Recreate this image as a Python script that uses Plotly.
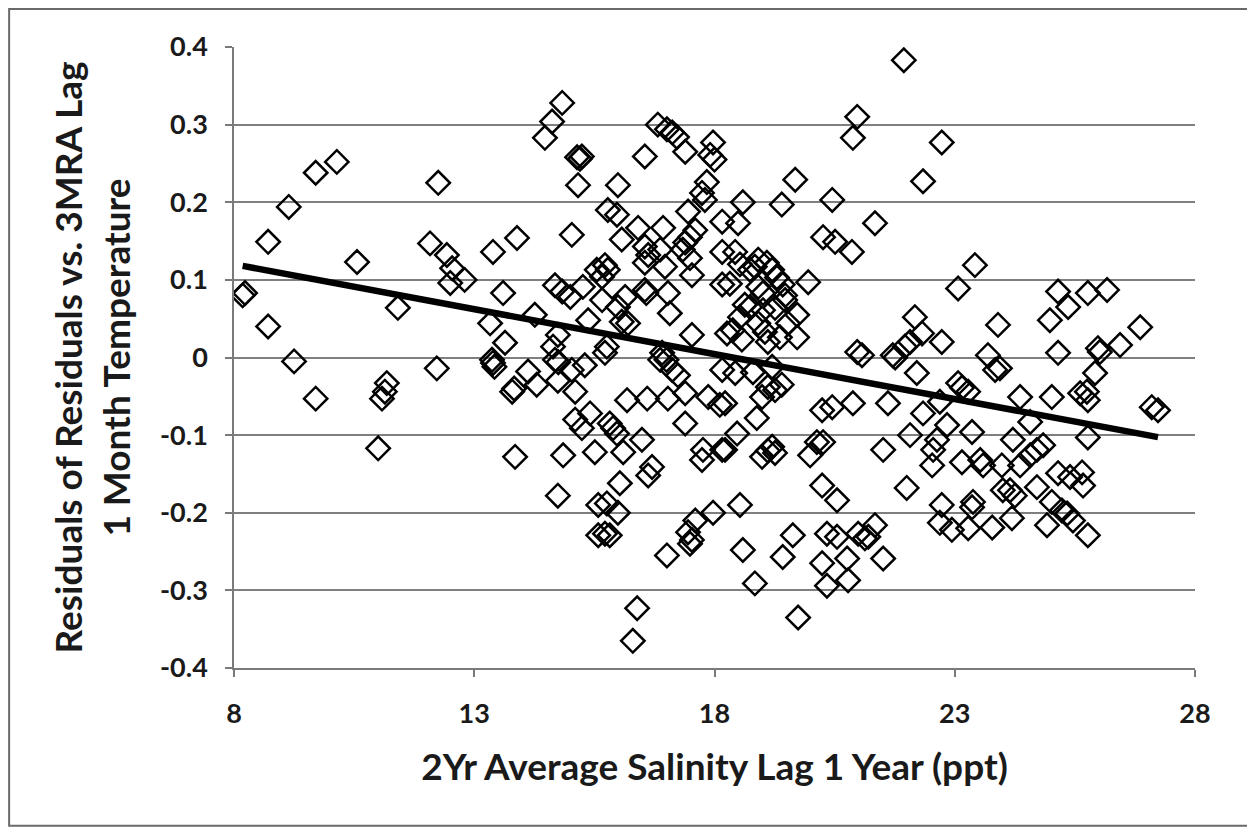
import plotly.graph_objects as go

# Scatter points (salinity ppt, residual)
salinity = [
    8.23, 8.18, 8.71, 8.71, 9.14, 9.25, 9.70, 9.70, 10.14, 10.56,
    11.00, 11.08, 11.14, 11.18, 11.41, 12.08, 12.25, 12.22, 12.43, 12.54,
    12.50, 12.80, 13.39, 13.33, 13.37, 13.39, 13.42, 13.64, 13.60, 13.79,
    13.83, 13.85, 13.89, 14.12, 14.26, 14.30, 14.47, 14.62, 14.83, 14.64,
    14.68, 14.74, 14.74, 14.75, 14.68, 14.83, 14.85, 14.74, 15.00, 15.03,
    15.03, 15.10, 15.10, 15.14, 15.16, 15.20, 15.24, 15.24, 15.26, 15.30,
    15.37, 15.41, 15.51, 15.55, 15.58, 15.58, 15.66, 15.66, 15.72, 15.72,
    15.72, 15.76, 15.76, 15.78, 15.78, 15.82, 15.82, 15.89, 15.97, 15.97,
    15.99, 15.99, 15.99, 16.03, 16.07, 16.07, 16.10, 16.14, 16.18, 16.20,
    16.30, 16.39, 16.41, 16.49, 16.55, 16.55, 16.55, 16.55, 16.58, 16.60,
    16.62, 16.62, 16.70, 16.82, 16.87, 16.87, 16.91, 16.93, 16.97, 17.00,
    17.01, 17.01, 17.03, 17.03, 17.07, 17.12, 17.12, 17.22, 17.24, 17.34,
    17.39, 17.39, 17.39, 17.39, 17.45, 17.45, 17.49, 17.49, 17.49, 17.53,
    17.53, 17.53, 17.60, 17.60, 17.74, 17.74, 17.76, 17.80, 17.84, 17.87,
    17.91, 17.97, 17.97, 18.00, 18.11, 18.16, 18.16, 18.16, 18.16, 18.16,
    18.22, 18.22, 18.26, 18.32, 18.38, 18.43, 18.43, 18.47, 18.49, 18.53,
    18.53, 18.53, 18.57, 18.59, 18.59, 18.63, 18.74, 18.74, 18.80, 18.84,
    18.84, 18.88, 18.91, 18.91, 18.91, 18.99, 18.99, 19.01, 19.01, 19.05,
    19.09, 19.11, 19.11, 19.11, 19.20, 19.20, 19.20, 19.26, 19.26, 19.26,
    19.30, 19.36, 19.40, 19.40, 19.42, 19.42, 19.47, 19.47, 19.53, 19.63,
    19.68, 19.72, 19.72, 19.74, 19.95, 19.99, 20.13, 20.24, 20.24, 20.24,
    20.26, 20.26, 20.34, 20.34, 20.45, 20.45, 20.51, 20.55, 20.55, 20.76,
    20.78, 20.86, 20.88, 20.88, 20.97, 20.97, 20.99, 21.07, 21.13, 21.20,
    21.34, 21.34, 21.51, 21.51, 21.61, 21.71, 21.76, 21.94, 21.96, 22.00,
    22.07, 22.07, 22.17, 22.21, 22.32, 22.34, 22.34, 22.53, 22.55, 22.63,
    22.69, 22.69, 22.73, 22.73, 22.73, 22.84, 22.94, 23.07, 23.07, 23.15,
    23.15, 23.28, 23.28, 23.36, 23.36, 23.38, 23.42, 23.53, 23.59, 23.69,
    23.78, 23.84, 23.90, 23.94, 23.98, 24.00, 24.15, 24.19, 24.21, 24.25,
    24.36, 24.36, 24.57, 24.57, 24.71, 24.71, 24.84, 24.92, 24.98, 25.02,
    25.02, 25.15, 25.15, 25.15, 25.23, 25.34, 25.36, 25.40, 25.46, 25.61,
    25.65, 25.67, 25.75, 25.77, 25.77, 25.77, 25.77, 25.92, 25.98, 26.02,
    26.17, 26.44, 26.86, 27.10, 27.23,
]
residual = [
    0.083, 0.080, 0.149, 0.040, 0.194, -0.005, 0.238, -0.053, 0.252, 0.123,
    -0.117, -0.053, -0.044, -0.033, 0.064, 0.147, 0.225, -0.014, 0.132, 0.115,
    0.096, 0.100, 0.136, 0.044, -0.003, -0.007, -0.012, 0.019, 0.083, -0.044,
    -0.040, -0.128, 0.154, -0.018, 0.055, -0.035, 0.283, 0.304, 0.328, 0.014,
    0.093, 0.029, -0.030, -0.006, -0.003, 0.085, -0.126, -0.178, 0.078, 0.158,
    -0.016, -0.044, -0.080, 0.258, 0.222, 0.256, 0.259, -0.091, 0.091, -0.010,
    0.048, -0.072, -0.122, 0.113, -0.190, -0.229, 0.104, 0.074, 0.119, 0.006,
    -0.227, 0.014, -0.188, 0.113, 0.190, -0.085, -0.229, -0.091, 0.184, -0.098,
    0.222, 0.065, -0.200, -0.162, 0.152, 0.046, -0.122, 0.078, -0.055, 0.044,
    -0.365, -0.323, 0.167, -0.106, 0.259, 0.143, 0.122, 0.087, 0.083, -0.053,
    0.132, -0.152, -0.141, 0.300, 0.139, -0.003, 0.006, 0.167, 0.117, -0.003,
    0.294, -0.255, 0.083, -0.053, 0.057, 0.290, -0.016, 0.284, -0.023, 0.139,
    0.265, 0.148, -0.046, -0.085, 0.188, -0.225, 0.155, 0.128, -0.240, 0.106,
    0.029, -0.235, 0.164, -0.210, 0.212, -0.132, -0.119, 0.203, 0.226, -0.051,
    0.261, 0.277, -0.200, 0.255, -0.061, 0.175, 0.136, 0.094, -0.016, -0.119,
    -0.059, -0.119, 0.031, 0.095, 0.035, 0.136, -0.020, -0.098, 0.173, 0.120,
    0.052, -0.190, 0.023, 0.200, -0.248, 0.068, 0.113, 0.065, -0.019, 0.117,
    -0.291, -0.078, 0.126, 0.091, 0.044, -0.051, -0.128, 0.083, 0.061, 0.033,
    0.122, 0.020, -0.038, -0.120, 0.113, -0.012, -0.115, 0.064, -0.042, -0.123,
    0.103, 0.026, 0.197, -0.035, 0.094, -0.257, 0.080, 0.074, 0.044, -0.229,
    0.229, 0.055, 0.026, -0.335, 0.097, -0.126, -0.109, -0.068, -0.165, -0.265,
    0.155, -0.109, -0.227, -0.294, 0.203, -0.064, 0.149, -0.184, -0.231, -0.259,
    -0.287, 0.136, 0.283, -0.059, 0.310, 0.007, -0.227, 0.003, -0.233, -0.231,
    0.173, -0.216, -0.119, -0.259, -0.059, 0.003, 0.000, 0.383, 0.014, -0.168,
    0.020, -0.100, 0.052, -0.020, 0.031, 0.227, -0.072, -0.139, -0.119, -0.106,
    -0.057, -0.213, 0.277, 0.020, -0.190, -0.087, -0.222, 0.089, -0.033, -0.039,
    -0.135, -0.044, -0.220, -0.096, -0.193, -0.186, 0.119, -0.132, -0.139, 0.003,
    -0.219, -0.016, 0.042, -0.014, -0.139, -0.171, -0.171, -0.207, -0.106, -0.178,
    -0.051, -0.139, -0.083, -0.126, -0.119, -0.167, -0.113, -0.216, 0.048, -0.051,
    -0.186, 0.085, 0.006, -0.149, -0.197, -0.201, 0.065, -0.154, -0.210, -0.046,
    -0.148, -0.165, -0.044, 0.083, -0.055, -0.103, -0.229, -0.020, 0.012, 0.007,
    0.087, 0.016, 0.039, -0.064, -0.068,
]

# Linear trendline
trend_slope = -0.01158
trend_intercept = 0.2128

x_ticks = [8, 13, 18, 23, 28]
y_ticks = [-0.4, -0.3, -0.2, -0.1, 0, 0.1, 0.2, 0.3, 0.4]
y_tick_text = ["-0.4", "-0.3", "-0.2", "-0.1", "0", "0.1", "0.2", "0.3", "0.4"]

FONT = "Lato"
TXT = "#1a1a1a"

tx = [min(salinity), max(salinity)]
ty = [trend_intercept + trend_slope * v for v in tx]

fig = go.Figure()
fig.add_trace(go.Scatter(
    x=salinity, y=residual, mode="markers",
    marker=dict(symbol="diamond-open", size=18, color="black",
                line=dict(color="black", width=2.5)),
    showlegend=False, hoverinfo="x+y",
))
fig.add_trace(go.Scatter(
    x=tx, y=ty, mode="lines",
    line=dict(color="black", width=6.5),
    showlegend=False, hoverinfo="skip",
))

fig.update_layout(
    width=1247, height=824,
    margin=dict(l=226, r=60, t=39, b=164),
    paper_bgcolor="white", plot_bgcolor="white",
    font=dict(family=FONT, color=TXT),
    xaxis=dict(
        range=[8, 28], tickvals=x_ticks, ticktext=[str(v) for v in x_ticks],
        showgrid=False, zeroline=False,
        showline=True, linecolor="#7a7a7a", linewidth=1.5,
        ticks="outside", ticklen=7, tickcolor="#7a7a7a", tickwidth=1.5,
        ticklabelstandoff=14,
        tickfont=dict(family=FONT, size=27, color=TXT, weight="bold"),
        title=dict(text="<b>2Yr Average Salinity Lag 1 Year (ppt)</b>",
                   font=dict(family=FONT, size=37, color=TXT), standoff=26),
    ),
    yaxis=dict(
        range=[-0.4, 0.4], tickvals=y_ticks, ticktext=y_tick_text,
        showgrid=True, gridcolor="#7f7f7f", gridwidth=1.5, zeroline=False,
        showline=True, linecolor="#7a7a7a", linewidth=1.5,
        ticks="outside", ticklen=7, tickcolor="#7a7a7a", tickwidth=1.5,
        ticklabelstandoff=12,
        tickfont=dict(family=FONT, size=27, color=TXT, weight="bold"),
        title=dict(text="<b>Residuals of Residuals vs. 3MRA Lag<br>1 Month Temperature</b>",
                   font=dict(family=FONT, size=37, color=TXT), standoff=18),
    ),
    shapes=[dict(type="rect", xref="paper", yref="paper",
                 x0=-0.234, x1=1.057, y0=-0.254, y1=1.061,
                 line=dict(color="#6a6a6a", width=2), fillcolor="rgba(0,0,0,0)",
                 layer="below")],
)

fig.write_html("out.html")
